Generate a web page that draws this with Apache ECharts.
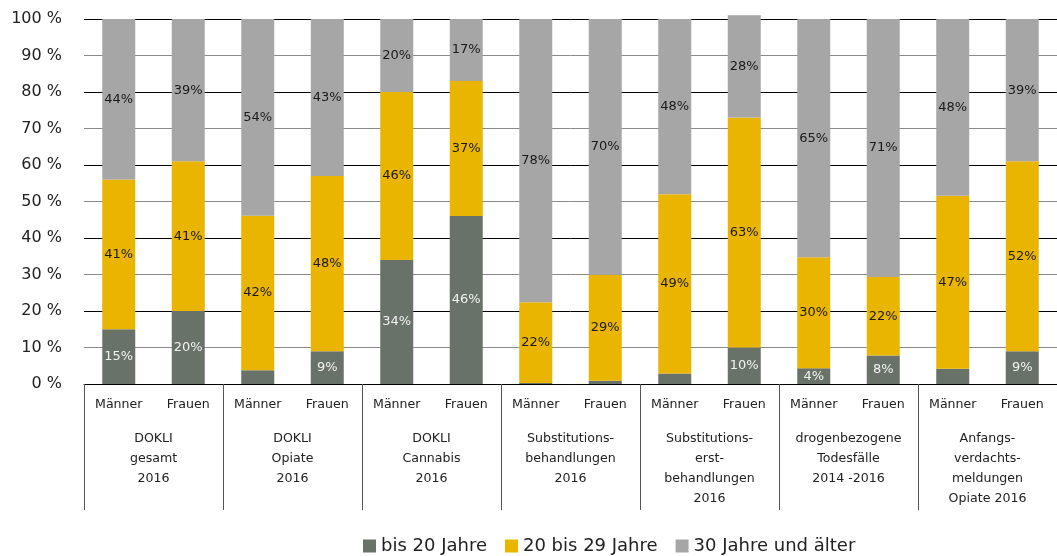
<!DOCTYPE html>
<html>
<head>
<meta charset="utf-8">
<script src="https://cdn.jsdelivr.net/npm/echarts@6/dist/echarts.min.js"></script>
<style>
  html, body { margin: 0; padding: 0; background: #fff; }
  #main { width: 1057px; height: 556px; }
</style>
</head>
<body>
<div id="main"></div>
<script>
var sexes = ['Männer', 'Frauen', 'Männer', 'Frauen', 'Männer', 'Frauen', 'Männer', 'Frauen',
  'Männer', 'Frauen', 'Männer', 'Frauen', 'Männer', 'Frauen'];
var groups = [
  'DOKLI\ngesamt\n2016',
  'DOKLI\nOpiate\n2016',
  'DOKLI\nCannabis\n2016',
  'Substitutions-\nbehandlungen\n2016',
  'Substitutions-\nerst-\nbehandlungen\n2016',
  'drogenbezogene\nTodesfälle\n2014 -2016',
  'Anfangs-\nverdachts-\nmeldungen\nOpiate 2016'
];
var seriesNames = ['bis 20 Jahre', '20 bis 29 Jahre', '30 Jahre und älter'];
var under20 = [15, 20, 3.8, 9, 34, 46, 0.3, 0.9, 2.9, 10, 4.3, 7.8, 4.2, 9];
var age20to29 = [41, 41, 42.3, 48, 46, 37, 22.1, 29, 49.1, 63, 30.4, 21.5, 47.4, 52];
var over30 = [44, 39, 53.9, 43, 20, 17, 77.6, 70.1, 48, 28, 65.3, 70.7, 48.4, 39];
// which of the "bis 20" values carry a label in the original
var under20Labelled = [1, 1, 0, 1, 1, 1, 0, 0, 0, 1, 1, 1, 0, 1];

var colors = ['#687268', '#E9B500', '#A6A6A6'];
var font = 'DejaVu Sans';

function pct(p) { return Math.round(p.value) + '%'; }

var chart = echarts.init(document.getElementById('main'));

var greenData = under20.map(function (v, i) {
  return { value: v, label: { show: under20Labelled[i] == 1 } };
});

function barSeries(name, data, color, labelColor) {
  return {
    name: name,
    type: 'bar',
    stack: 'total',
    barWidth: 33,
    clip: false,
    data: data,
    itemStyle: { color: color },
    label: {
      show: true,
      position: 'inside',
      formatter: pct,
      color: labelColor,
      fontFamily: font,
      fontSize: 13
    }
  };
}

var option = {
  animation: false,
  textStyle: { fontFamily: font },
  color: colors,
  grid: { left: 84, top: 19, width: 980, height: 365 },
  legend: {
    left: 358,
    top: 532,
    icon: 'rect',
    itemWidth: 13,
    itemHeight: 13,
    itemGap: 18,
    textStyle: { fontFamily: font, fontSize: 18, color: '#222' },
    data: seriesNames
  },
  xAxis: [
    {
      type: 'category',
      data: sexes,
      position: 'bottom',
      axisLine: { show: true, lineStyle: { color: '#000', width: 1 } },
      axisTick: { show: false },
      axisLabel: { interval: 0, margin: 14, fontSize: 12.6, color: '#222', fontFamily: font }
    },
    {
      type: 'category',
      data: groups,
      position: 'bottom',
      axisLine: { show: false },
      axisTick: { show: true, length: 126, lineStyle: { color: '#555', width: 1 } },
      axisLabel: { interval: 0, margin: 45, fontSize: 12.6, lineHeight: 20, color: '#222', fontFamily: font }
    }
  ],
  yAxis: {
    type: 'value',
    min: 0,
    max: 100,
    interval: 10,
    axisLine: { show: false },
    axisTick: { show: false },
    axisLabel: { formatter: '{value} %', fontSize: 16, color: '#222', margin: 22, fontFamily: font },
    splitLine: { lineStyle: { color: ['#000', '#8a8a8a'], width: 1 } }
  },
  series: [
    barSeries(seriesNames[0], greenData, colors[0], '#f2f2f2'),
    barSeries(seriesNames[1], age20to29, colors[1], '#1a1a1a'),
    barSeries(seriesNames[2], over30, colors[2], '#1a1a1a')
  ]
};

chart.setOption(option);
</script>
</body>
</html>
